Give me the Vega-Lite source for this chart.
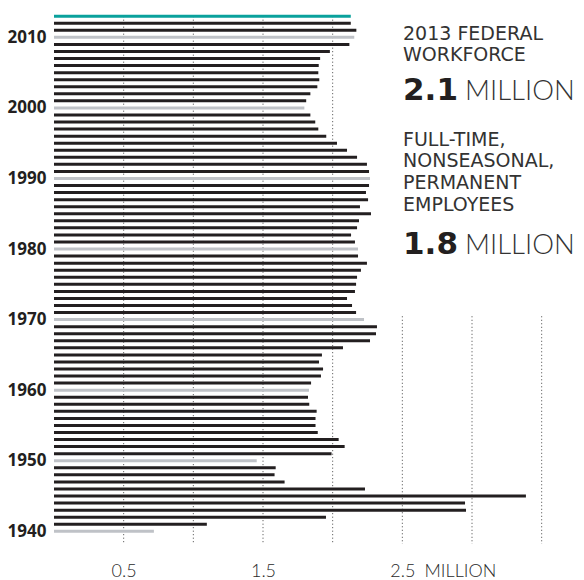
{
  "$schema": "https://vega.github.io/schema/vega-lite/v6.json",
  "autosize": "none",
  "width": 522.5,
  "height": 541,
  "padding": {"left": 54, "top": 8, "right": 7.5, "bottom": 31},
  "background": "white",
  "config": {"view": {"stroke": null}},
  "datasets": {
    "workforce": [
      {"year": 2013, "value": 2.13}, {"year": 2012, "value": 2.13}, {"year": 2011, "value": 2.17},
      {"year": 2010, "value": 2.155}, {"year": 2009, "value": 2.12}, {"year": 2008, "value": 1.98},
      {"year": 2007, "value": 1.91}, {"year": 2006, "value": 1.9}, {"year": 2005, "value": 1.897},
      {"year": 2004, "value": 1.904}, {"year": 2003, "value": 1.89}, {"year": 2002, "value": 1.84},
      {"year": 2001, "value": 1.81}, {"year": 2000, "value": 1.797}, {"year": 1999, "value": 1.84},
      {"year": 1998, "value": 1.875}, {"year": 1997, "value": 1.897}, {"year": 1996, "value": 1.954},
      {"year": 1995, "value": 2.031}, {"year": 1994, "value": 2.103}, {"year": 1993, "value": 2.175},
      {"year": 1992, "value": 2.246}, {"year": 1991, "value": 2.261}, {"year": 1990, "value": 2.268},
      {"year": 1989, "value": 2.261}, {"year": 1988, "value": 2.239}, {"year": 1987, "value": 2.254},
      {"year": 1986, "value": 2.196}, {"year": 1985, "value": 2.275}, {"year": 1984, "value": 2.189},
      {"year": 1983, "value": 2.175}, {"year": 1982, "value": 2.132}, {"year": 1981, "value": 2.16},
      {"year": 1980, "value": 2.182}, {"year": 1979, "value": 2.182}, {"year": 1978, "value": 2.246},
      {"year": 1977, "value": 2.203}, {"year": 1976, "value": 2.175}, {"year": 1975, "value": 2.168},
      {"year": 1974, "value": 2.16}, {"year": 1973, "value": 2.103}, {"year": 1972, "value": 2.139},
      {"year": 1971, "value": 2.168}, {"year": 1970, "value": 2.225}, {"year": 1969, "value": 2.318},
      {"year": 1968, "value": 2.311}, {"year": 1967, "value": 2.268}, {"year": 1966, "value": 2.074},
      {"year": 1965, "value": 1.923}, {"year": 1964, "value": 1.902}, {"year": 1963, "value": 1.931},
      {"year": 1962, "value": 1.916}, {"year": 1961, "value": 1.845}, {"year": 1960, "value": 1.83},
      {"year": 1959, "value": 1.823}, {"year": 1958, "value": 1.832}, {"year": 1957, "value": 1.885},
      {"year": 1956, "value": 1.877}, {"year": 1955, "value": 1.877}, {"year": 1954, "value": 1.893},
      {"year": 1953, "value": 2.043}, {"year": 1952, "value": 2.086}, {"year": 1951, "value": 1.992},
      {"year": 1950, "value": 1.455}, {"year": 1949, "value": 1.591}, {"year": 1948, "value": 1.583},
      {"year": 1947, "value": 1.655}, {"year": 1946, "value": 2.232}, {"year": 1945, "value": 3.387},
      {"year": 1944, "value": 2.95}, {"year": 1943, "value": 2.957}, {"year": 1942, "value": 1.952},
      {"year": 1941, "value": 1.097}, {"year": 1940, "value": 0.717}
    ],
    "fullgrid": [{"v": 0.5}, {"v": 1.0}, {"v": 1.5}, {"v": 2.0}],
    "partgrid": [{"v": 2.5}, {"v": 3.0}, {"v": 3.5}],
    "one": [{}]
  },
  "layer": [
    {
      "data": {"name": "fullgrid"},
      "mark": {"type": "rule", "color": "#444444", "strokeWidth": 1, "strokeDash": [1, 2.5]},
      "encoding": {
        "x": {"field": "v", "type": "quantitative"},
        "y": {"datum": 2013, "type": "quantitative"},
        "y2": {"datum": 1938.2}
      }
    },
    {
      "data": {"name": "partgrid"},
      "mark": {"type": "rule", "color": "#444444", "strokeWidth": 1, "strokeDash": [1, 2.5]},
      "encoding": {
        "x": {"field": "v", "type": "quantitative"},
        "y": {"datum": 1970.47, "type": "quantitative"},
        "y2": {"datum": 1938.2}
      }
    },
    {
      "data": {"name": "workforce"},
      "mark": {"type": "bar", "orient": "horizontal", "height": 3},
      "encoding": {
        "x": {
          "field": "value", "type": "quantitative",
          "scale": {"domain": [0, 3.75], "nice": false, "zero": true},
          "axis": {
            "values": [0.5, 1.5, 2.5], "domain": false, "ticks": false, "grid": false,
            "labelFont": "Lato", "labelFontSize": 18, "labelFontWeight": 300, "labelColor": "#2a2a2a",
            "labelPadding": 13, "format": ".1f",
            "title": "MILLION", "titleFont": "Lato", "titleFontSize": 18, "titleFontWeight": 300,
            "titleColor": "#2a2a2a", "titleAlign": "left", "titleX": 370, "titleY": 27,
            "titleBaseline": "alphabetic", "titleAnchor": "start"
          }
        },
        "y": {
          "field": "year", "type": "quantitative",
          "scale": {"domain": [1938.2, 2013.45], "nice": false, "zero": false},
          "axis": {
            "values": [1940, 1950, 1960, 1970, 1980, 1990, 2000, 2010], "format": "d",
            "domain": false, "ticks": false, "grid": false, "title": null,
            "labelFont": "Open Sans", "labelFontSize": 17, "labelFontWeight": "bold",
            "labelColor": "#231f20", "labelPadding": 8, "labelBaseline": "middle"
          }
        },
        "color": {
          "condition": [
            {"test": "datum.year == 2013", "value": "#0aa19c"},
            {"test": "datum.year % 10 == 0", "value": "#bfc2c7"}
          ],
          "value": "#231f20"
        }
      }
    },
    {
      "data": {"name": "one"},
      "mark": {"type": "text", "align": "left", "baseline": "alphabetic", "font": "DejaVu Sans", "fontSize": 19, "color": "#333333", "lineHeight": 21.7, "lineBreak": "\n"},
      "encoding": {
        "x": {"datum": 2.505, "type": "quantitative"},
        "y": {"datum": 2009.69, "type": "quantitative"},
        "text": {"value": "2013 FEDERAL\nWORKFORCE"}
      }
    },
    {
      "data": {"name": "one"},
      "mark": {"type": "text", "align": "left", "baseline": "alphabetic", "font": "DejaVu Sans", "fontSize": 31, "fontWeight": "bold", "color": "#231f20"},
      "encoding": {
        "x": {"datum": 2.505, "type": "quantitative"},
        "y": {"datum": 2001.11, "type": "quantitative"},
        "text": {"value": "2.1"}
      }
    },
    {
      "data": {"name": "one"},
      "mark": {"type": "text", "align": "left", "baseline": "alphabetic", "font": "Lato", "fontSize": 27.5, "fontWeight": 300, "color": "#333333"},
      "encoding": {
        "x": {"datum": 2.95, "type": "quantitative"},
        "y": {"datum": 2001.11, "type": "quantitative"},
        "text": {"value": "MILLION"}
      }
    },
    {
      "data": {"name": "one"},
      "mark": {"type": "text", "align": "left", "baseline": "alphabetic", "font": "DejaVu Sans", "fontSize": 19, "color": "#333333", "lineHeight": 21.7, "lineBreak": "\n"},
      "encoding": {
        "x": {"datum": 2.505, "type": "quantitative"},
        "y": {"datum": 1994.63, "type": "quantitative"},
        "text": {"value": "FULL-TIME,\nNONSEASONAL,\nPERMANENT\nEMPLOYEES"}
      }
    },
    {
      "data": {"name": "one"},
      "mark": {"type": "text", "align": "left", "baseline": "alphabetic", "font": "DejaVu Sans", "fontSize": 31, "fontWeight": "bold", "color": "#231f20"},
      "encoding": {
        "x": {"datum": 2.505, "type": "quantitative"},
        "y": {"datum": 1979.33, "type": "quantitative"},
        "text": {"value": "1.8"}
      }
    },
    {
      "data": {"name": "one"},
      "mark": {"type": "text", "align": "left", "baseline": "alphabetic", "font": "Lato", "fontSize": 27.5, "fontWeight": 300, "color": "#333333"},
      "encoding": {
        "x": {"datum": 2.95, "type": "quantitative"},
        "y": {"datum": 1979.33, "type": "quantitative"},
        "text": {"value": "MILLION"}
      }
    }
  ]
}
